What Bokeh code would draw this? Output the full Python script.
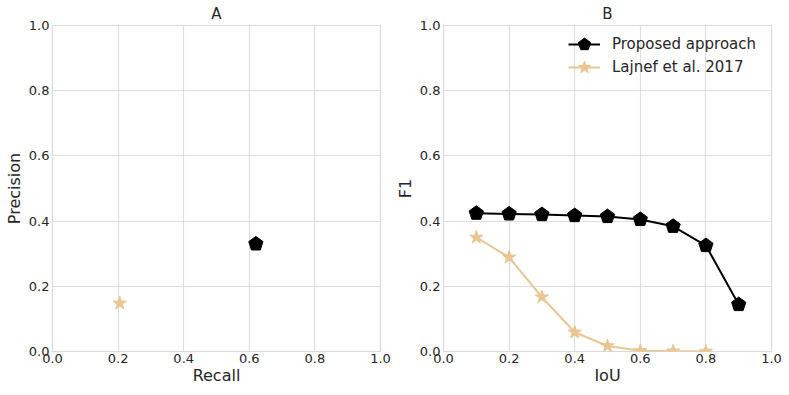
from bokeh.plotting import figure
from bokeh.layouts import row
from bokeh.models import Legend, LegendItem, FixedTicker, Range1d, PrintfTickFormatter
from bokeh.embed import file_html
from bokeh.resources import INLINE

# Panel A data
recall_proposed = [0.62]
precision_proposed = [0.330]
recall_lajnef = [0.205]
precision_lajnef = [0.148]

# Panel B data
iou_proposed = [0.1, 0.2, 0.3, 0.4, 0.5, 0.6, 0.7, 0.8, 0.9]
f1_proposed = [0.424, 0.422, 0.420, 0.417, 0.414, 0.405, 0.384, 0.325, 0.144]
iou_lajnef = [0.1, 0.2, 0.3, 0.4, 0.5, 0.6, 0.7, 0.8]
f1_lajnef = [0.350, 0.289, 0.167, 0.059, 0.017, 0.002, 0.001, 0.000]

ticks = [0.0, 0.2, 0.4, 0.6, 0.8, 1.0]

BLACK = "#000000"
TAN = "#e9c592"
FONT = "DejaVu Sans"
TXT = "#262626"


def style(p, title, xlabel, ylabel):
    p.title.text = title
    p.title.align = "center"
    p.title.text_font = FONT
    p.title.text_font_size = "15px"
    p.title.text_font_style = "normal"
    p.title.text_color = TXT
    p.title.standoff = 5
    p.x_range = Range1d(0, 1)
    p.y_range = Range1d(0, 1)
    p.outline_line_color = "#d9d9d9"
    p.outline_line_width = 1.2
    for ax, lab in ((p.xaxis[0], xlabel), (p.yaxis[0], ylabel)):
        ax.ticker = FixedTicker(ticks=ticks)
        ax.formatter = PrintfTickFormatter(format="%.1f")
        ax.axis_label = lab
        ax.axis_label_text_font = FONT
        ax.axis_label_text_font_size = "16px"
        ax.axis_label_text_font_style = "normal"
        ax.axis_label_text_color = TXT
        ax.major_label_text_font = FONT
        ax.major_label_text_font_size = "13px"
        ax.major_label_text_color = TXT
        ax.axis_line_color = None
        ax.major_tick_line_color = None
        ax.minor_tick_line_color = None
        ax.major_tick_out = 0
        ax.major_tick_in = 0
        ax.minor_tick_out = 0
        ax.minor_tick_in = 0
    p.xaxis[0].major_label_standoff = 2
    p.xaxis[0].axis_label_standoff = 0
    p.yaxis[0].major_label_standoff = 3
    p.yaxis[0].axis_label_standoff = 2
    p.xgrid.ticker = FixedTicker(ticks=ticks)
    p.ygrid.ticker = FixedTicker(ticks=ticks)
    p.xgrid.grid_line_color = "#dedede"
    p.ygrid.grid_line_color = "#dedede"
    p.xgrid.grid_line_width = 1.2
    p.ygrid.grid_line_width = 1.2


pA = figure(width=392, height=395, output_backend="svg", toolbar_location=None,
            min_border_left=52, min_border_right=12, min_border_top=24, min_border_bottom=44)
style(pA, "A", "Recall", "Precision")
pA.ngon(recall_proposed, precision_proposed, radius=7.5, radius_units="screen", n=5,
        angle=0, fill_color=BLACK, line_color=BLACK)
pA.scatter(recall_lajnef, precision_lajnef, marker="star", size=14,
           fill_color=TAN, line_color=TAN)

pB = figure(width=397, height=395, output_backend="svg", toolbar_location=None,
            min_border_left=51, min_border_right=18, min_border_top=24, min_border_bottom=44)
style(pB, "B", "IoU", "F1")
l1 = pB.line(iou_proposed, f1_proposed, line_color=BLACK, line_width=2)
m1 = pB.ngon(iou_proposed, f1_proposed, radius=7.5, radius_units="screen", n=5,
             angle=0, fill_color=BLACK, line_color=BLACK)
l2 = pB.line(iou_lajnef, f1_lajnef, line_color=TAN, line_width=2)
m2 = pB.scatter(iou_lajnef, f1_lajnef, marker="star", size=14,
                fill_color=TAN, line_color=TAN)

legend_style = dict(border_line_color=None, background_fill_alpha=0,
                    label_text_font=FONT, label_text_font_size="15px", label_text_color=TXT,
                    glyph_width=32, glyph_height=34, spacing=0, padding=0, margin=0,
                    label_standoff=12)
legend1 = Legend(items=[LegendItem(label="Proposed approach", renderers=[l1, m1])],
                 location=(125, 290), **legend_style)
legend2 = Legend(items=[LegendItem(label="Lajnef et al. 2017", renderers=[l2, m2])],
                 location=(125, 267), **legend_style)
pB.add_layout(legend1)
pB.add_layout(legend2)

layout = row(pA, pB)
open("out.html", "w").write(file_html(layout, INLINE))
